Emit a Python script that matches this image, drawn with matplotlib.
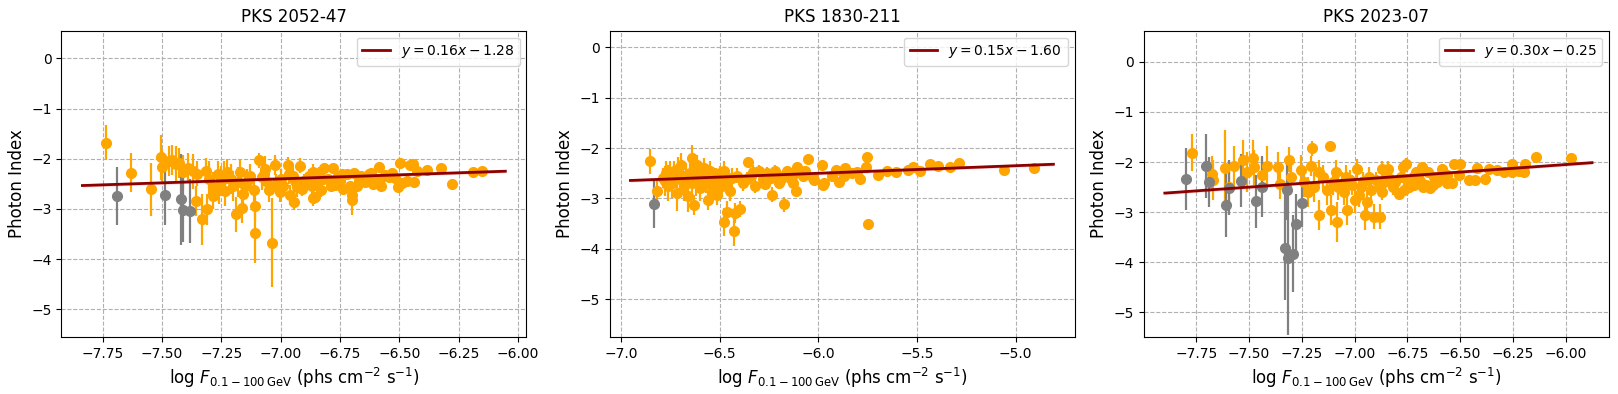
"""Photon index vs. log flux for three blazars."""

import numpy as np
import matplotlib
matplotlib.use("Agg")
import matplotlib.pyplot as plt


# --- PKS 2052-47 -----------------------------------------------------------
p1_x = [-7.735, -7.631, -7.547, -7.505, -7.50, -7.47, -7.458, -7.44, -7.43, -7.41,
        -7.39, -7.37, -7.356, -7.353, -7.332, -7.314, -7.311, -7.30, -7.287, -7.284,
        -7.262, -7.26, -7.25, -7.234, -7.228, -7.21, -7.20, -7.19, -7.18, -7.17,
        -7.164, -7.157, -7.14, -7.13, -7.114, -7.11, -7.11, -7.092, -7.08, -7.065,
        -7.06, -7.05, -7.037, -7.023, -7.02, -7.004, -7.0, -6.97, -6.967, -6.96,
        -6.95, -6.943, -6.93, -6.92, -6.91, -6.90, -6.88, -6.866, -6.864, -6.857,
        -6.85, -6.84, -6.83, -6.818, -6.80, -6.79, -6.78, -6.77, -6.76, -6.75,
        -6.738, -6.72, -6.71, -6.70, -6.698, -6.69, -6.67, -6.66, -6.643, -6.633,
        -6.62, -6.61, -6.60, -6.588, -6.579, -6.56, -6.544, -6.53, -6.506, -6.498,
        -6.49, -6.47, -6.456, -6.443, -6.438, -6.425, -6.385, -6.326, -6.278, -6.19,
        -6.154, -7.24, -7.15, -7.07, -6.99, -6.94, -6.87, -6.82, -6.74, -6.68,
        -6.63, -6.58, -6.52]
p1_y = [-1.68, -2.28, -2.61, -1.97, -2.16, -2.05, -2.03, -2.10, -2.09, -2.27,
        -2.19, -2.25, -2.85, -2.30, -3.21, -2.24, -3.01, -2.40, -2.75, -2.56,
        -2.30, -2.60, -2.45, -2.65, -2.26, -2.40, -2.55, -3.11, -2.46, -2.27,
        -2.98, -2.70, -2.46, -2.35, -2.63, -2.95, -3.47, -2.03, -2.37, -2.20,
        -2.45, -2.62, -3.67, -2.13, -2.50, -2.67, -2.40, -2.12, -2.30, -2.72,
        -2.35, -2.87, -2.56, -2.14, -2.60, -2.45, -2.35, -2.26, -2.79, -2.77,
        -2.46, -2.28, -2.62, -2.18, -2.40, -2.55, -2.19, -2.52, -2.35, -2.45,
        -2.60, -2.30, -2.55, -2.82, -2.72, -2.29, -2.45, -2.35, -2.46, -2.44,
        -2.29, -2.50, -2.42, -2.16, -2.54, -2.33, -2.36, -2.28, -2.56, -2.08,
        -2.49, -2.44, -2.13, -2.11, -2.47, -2.24, -2.23, -2.19, -2.50, -2.26,
        -2.24, -2.35, -2.55, -2.30, -2.55, -2.45, -2.55, -2.40, -2.30, -2.55,
        -2.30, -2.40, -2.38]
p1_err = [0.35, 0.39, 0.53, 0.45, 0.35, 0.30, 0.30, 0.35, 0.30, 0.35,
          0.30, 0.35, 0.30, 0.25, 0.50, 0.25, 0.30, 0.35, 0.25, 0.30,
          0.25, 0.30, 0.30, 0.30, 0.25, 0.30, 0.30, 0.35, 0.30, 0.25,
          0.30, 0.30, 0.25, 0.25, 0.30, 0.30, 0.60, 0.15, 0.25, 0.25,
          0.25, 0.25, 0.88, 0.20, 0.20, 0.20, 0.20, 0.15, 0.20, 0.20,
          0.20, 0.15, 0.20, 0.15, 0.15, 0.15, 0.15, 0.15, 0.15, 0.10,
          0.15, 0.12, 0.15, 0.10, 0.10, 0.12, 0.10, 0.12, 0.10, 0.10,
          0.12, 0.10, 0.10, 0.30, 0.12, 0.10, 0.10, 0.10, 0.10, 0.10,
          0.10, 0.10, 0.10, 0.10, 0.10, 0.10, 0.10, 0.08, 0.10, 0.10,
          0.10, 0.08, 0.08, 0.08, 0.10, 0.08, 0.08, 0.08, 0.08, 0.08,
          0.08, 0.30, 0.25, 0.25, 0.20, 0.15, 0.15, 0.12, 0.10, 0.10,
          0.10, 0.10, 0.08]
p1_grey_x = [-7.688, -7.486, -7.419, -7.412, -7.381]
p1_grey_y = [-2.74, -2.72, -2.81, -3.02, -3.04]
p1_grey_err = [0.58, 0.60, 0.90, 0.64, 0.64]

# --- PKS 1830-211 ----------------------------------------------------------
p2_x = [-6.853, -6.82, -6.79, -6.78, -6.77, -6.761, -6.75, -6.74, -6.73, -6.719,
        -6.71, -6.70, -6.694, -6.68, -6.67, -6.66, -6.65, -6.643, -6.631, -6.63,
        -6.62, -6.614, -6.60, -6.59, -6.58, -6.57, -6.557, -6.55, -6.54, -6.53,
        -6.52, -6.516, -6.50, -6.49, -6.48, -6.477, -6.465, -6.46, -6.45, -6.44,
        -6.43, -6.423, -6.41, -6.396, -6.38, -6.36, -6.359, -6.34, -6.32, -6.30,
        -6.28, -6.26, -6.24, -6.237, -6.22, -6.20, -6.18, -6.176, -6.16, -6.14,
        -6.12, -6.112, -6.108, -6.08, -6.07, -6.051, -6.025, -6.02, -5.983, -5.975,
        -5.97, -5.93, -5.909, -5.895, -5.87, -5.863, -5.83, -5.804, -5.787, -5.76,
        -5.751, -5.746, -5.70, -5.651, -5.604, -5.545, -5.52, -5.486, -5.435, -5.393,
        -5.333, -5.288, -5.06, -4.908, -6.76, -6.69, -6.64, -6.56, -6.47, -6.33,
        -6.27, -6.19, -6.13]
p2_y = [-2.26, -2.86, -2.60, -2.65, -2.50, -2.58, -2.55, -2.70, -2.45, -2.90,
        -2.42, -2.62, -2.34, -2.75, -2.60, -2.96, -2.50, -2.19, -3.13, -2.45,
        -2.65, -2.34, -2.80, -2.55, -2.40, -2.70, -3.03, -2.45, -2.85, -2.72,
        -2.60, -2.93, -2.50, -2.75, -2.45, -3.47, -3.26, -2.60, -2.85, -2.60,
        -3.64, -3.29, -2.55, -3.21, -2.70, -2.62, -2.28, -2.55, -2.75, -2.45,
        -2.62, -2.50, -2.60, -2.93, -2.45, -2.70, -2.55, -3.12, -2.45, -2.62,
        -2.50, -2.86, -2.37, -2.55, -2.45, -2.22, -2.60, -2.63, -2.34, -2.73,
        -2.70, -2.55, -2.43, -2.67, -2.55, -2.40, -2.50, -2.47, -2.62, -2.37,
        -2.18, -3.51, -2.54, -2.45, -2.47, -2.43, -2.37, -2.45, -2.32, -2.36,
        -2.38, -2.30, -2.44, -2.40, -2.75, -2.55, -2.70, -2.60, -2.70, -2.48,
        -2.72, -2.62, -2.70]
p2_err = [0.25, 0.25, 0.20, 0.30, 0.25, 0.25, 0.30, 0.30, 0.20, 0.35,
          0.25, 0.25, 0.25, 0.30, 0.30, 0.30, 0.20, 0.25, 0.20, 0.25,
          0.30, 0.20, 0.25, 0.25, 0.20, 0.20, 0.20, 0.20, 0.25, 0.25,
          0.20, 0.20, 0.15, 0.20, 0.20, 0.28, 0.20, 0.15, 0.20, 0.20,
          0.30, 0.20, 0.15, 0.15, 0.15, 0.15, 0.10, 0.15, 0.15, 0.12,
          0.15, 0.12, 0.12, 0.15, 0.12, 0.12, 0.12, 0.15, 0.10, 0.12,
          0.10, 0.12, 0.10, 0.10, 0.10, 0.08, 0.10, 0.10, 0.08, 0.10,
          0.10, 0.08, 0.08, 0.08, 0.08, 0.08, 0.08, 0.08, 0.08, 0.08,
          0.08, 0.08, 0.06, 0.06, 0.06, 0.06, 0.06, 0.06, 0.06, 0.06,
          0.06, 0.05, 0.05, 0.05, 0.30, 0.25, 0.25, 0.20, 0.20, 0.15,
          0.12, 0.12, 0.10]
p2_grey_x = [-6.832]
p2_grey_y = [-3.12]
p2_grey_err = [0.46]

# --- PKS 2023-07 -----------------------------------------------------------
p3_x = [-7.769, -7.674, -7.67, -7.614, -7.595, -7.571, -7.527, -7.51, -7.48, -7.475,
        -7.44, -7.417, -7.361, -7.355, -7.31, -7.30, -7.254, -7.24, -7.22, -7.205,
        -7.203, -7.19, -7.17, -7.167, -7.15, -7.13, -7.116, -7.113, -7.10, -7.09,
        -7.085, -7.06, -7.05, -7.037, -7.02, -7.0, -6.99, -6.98, -6.97, -6.95,
        -6.94, -6.93, -6.91, -6.88, -6.88, -6.871, -6.86, -6.84, -6.83, -6.82,
        -6.79, -6.77, -6.765, -6.757, -6.75, -6.725, -6.72, -6.70, -6.68, -6.674,
        -6.66, -6.65, -6.645, -6.626, -6.61, -6.60, -6.585, -6.563, -6.56, -6.538,
        -6.53, -6.506, -6.501, -6.46, -6.43, -6.42, -6.38, -6.364, -6.324, -6.294,
        -6.256, -6.253, -6.223, -6.197, -6.193, -6.14, -5.975,
        -7.08, -7.04, -7.01, -6.96, -6.92, -6.90, -6.87, -6.85, -6.81, -6.78,
        -6.74, -6.71, -6.69, -6.63]
p3_y = [-1.81, -2.23, -2.36, -2.12, -2.50, -2.08, -1.96, -2.20, -1.91, -2.10,
        -2.25, -2.08, -2.10, -2.43, -1.95, -2.30, -2.15, -2.40, -2.60, -2.08,
        -1.73, -2.50, -2.20, -3.06, -2.30, -2.55, -1.68, -2.96, -2.40, -2.20,
        -3.19, -2.45, -2.60, -2.96, -2.35, -2.76, -2.14, -2.65, -2.50, -3.05,
        -2.80, -2.30, -3.09, -3.09, -2.49, -2.13, -2.40, -2.13, -2.33, -2.50,
        -2.63, -2.10, -2.56, -2.03, -2.35, -2.29, -2.45, -2.26, -2.10, -2.50,
        -2.46, -2.20, -2.51, -2.30, -2.40, -2.29, -2.13, -2.41, -2.25, -2.41,
        -2.03, -2.26, -2.03, -2.36, -2.36, -2.11, -2.33, -2.13, -2.16, -2.20,
        -2.19, -2.03, -2.18, -2.19, -2.03, -1.90, -1.91,
        -2.50, -2.30, -2.45, -2.40, -2.55, -2.35, -2.60, -2.28, -2.40, -2.30,
        -2.50, -2.20, -2.38, -2.45]
p3_err = [0.36, 0.35, 0.40, 0.75, 0.40, 0.40, 0.40, 0.40, 0.35, 0.35,
          0.35, 0.40, 0.30, 0.30, 0.25, 0.30, 0.30, 0.30, 0.30, 0.20,
          0.15, 0.30, 0.25, 0.30, 0.25, 0.30, 0.10, 0.30, 0.25, 0.25,
          0.40, 0.25, 0.25, 0.30, 0.20, 0.25, 0.20, 0.25, 0.20, 0.30,
          0.30, 0.20, 0.25, 0.25, 0.15, 0.15, 0.15, 0.15, 0.12, 0.15,
          0.12, 0.12, 0.12, 0.12, 0.12, 0.10, 0.12, 0.10, 0.10, 0.10,
          0.10, 0.10, 0.10, 0.10, 0.10, 0.10, 0.10, 0.10, 0.10, 0.10,
          0.10, 0.08, 0.08, 0.08, 0.08, 0.08, 0.08, 0.08, 0.08, 0.08,
          0.08, 0.08, 0.08, 0.08, 0.08, 0.06, 0.06,
          0.25, 0.25, 0.20, 0.20, 0.20, 0.15, 0.15, 0.15, 0.12, 0.12,
          0.12, 0.10, 0.10, 0.10]
p3_grey_x = [-7.799, -7.704, -7.69, -7.609, -7.597, -7.536, -7.467, -7.439,
             -7.33, -7.321, -7.317, -7.29, -7.277, -7.25]
p3_grey_y = [-2.34, -2.08, -2.39, -2.85, -2.51, -2.37, -2.78, -2.49,
             -3.71, -2.56, -3.91, -3.83, -3.23, -2.81]
p3_grey_err = [0.61, 0.64, 0.50, 0.64, 0.55, 0.53, 0.53, 0.61,
               1.05, 0.60, 1.55, 0.77, 0.60, 0.48]

# Fit parameters (slope, intercept) as shown in the legends
titels = ["PKS 2052-47", "PKS 1830-211", "PKS 2023-07"]
slopes = [0.16, 0.15, 0.30]
intercepts = [-1.28, -1.60, -0.25]

panels = [
    (p1_x, p1_y, p1_err, p1_grey_x, p1_grey_y, p1_grey_err),
    (p2_x, p2_y, p2_err, p2_grey_x, p2_grey_y, p2_grey_err),
    (p3_x, p3_y, p3_err, p3_grey_x, p3_grey_y, p3_grey_err),
]

# Layout (measured from reference, in figure fractions)
ax_left = [0.0380, 0.3767, 0.7070]
ax_width = 0.2874
ax_bottom = 0.1447
ax_height = 0.7774
xlims = [(-7.923, -5.965), (-7.059, -4.701), (-7.998, -5.795)]
ylims = [(-5.55, 0.55), (-5.75, 0.33), (-5.49, 0.62)]

fig, axes = plt.subplots(1, 3, figsize=(16.18, 3.94), dpi=100)

for i, ax in enumerate(axes):
    x, y, err, gx, gy, gerr = panels[i]
    ax.set_position([ax_left[i], ax_bottom, ax_width, ax_height])

    # Datapunten
    ax.errorbar(x, y, yerr=err, fmt="o", color="orange", ecolor="orange",
                markersize=7, elinewidth=1.6, zorder=2)
    ax.errorbar(gx, gy, yerr=gerr, fmt="o", color="grey", ecolor="grey",
                markersize=7, elinewidth=1.6, zorder=2)

    # Lineaire fit
    all_x = np.concatenate([x, gx])
    x_fit = np.linspace(all_x.min() - 0.1, all_x.max() + 0.1, 100)
    y_fit = slopes[i] * x_fit + intercepts[i]
    ax.fill_between(x_fit, y_fit - 0.03, y_fit + 0.03, color="red", alpha=0.2,
                    linewidth=0, zorder=3)
    sign = "-" if intercepts[i] < 0 else "+"
    ax.plot(x_fit, y_fit, color="darkred", linewidth=2, zorder=4,
            label=rf"$y = {slopes[i]:.2f}x {sign} {abs(intercepts[i]):.2f}$")

    # Styling
    ax.grid(True, linestyle="--", color="#b0b0b0", linewidth=0.8)
    ax.set_axisbelow(True)
    ax.set_xlim(*xlims[i])
    ax.set_ylim(*ylims[i])
    ax.set_title(titels[i], fontsize=12)
    ax.set_xlabel(r"$\log\,F_{0.1-100\,\mathrm{GeV}}$ (phs cm$^{-2}$ s$^{-1}$)", fontsize=12)
    ax.set_ylabel("Photon Index", fontsize=12)
    ax.legend(loc="upper right", fontsize=10)

fig.savefig("out.png", dpi=100, facecolor="white")
plt.close(fig)
